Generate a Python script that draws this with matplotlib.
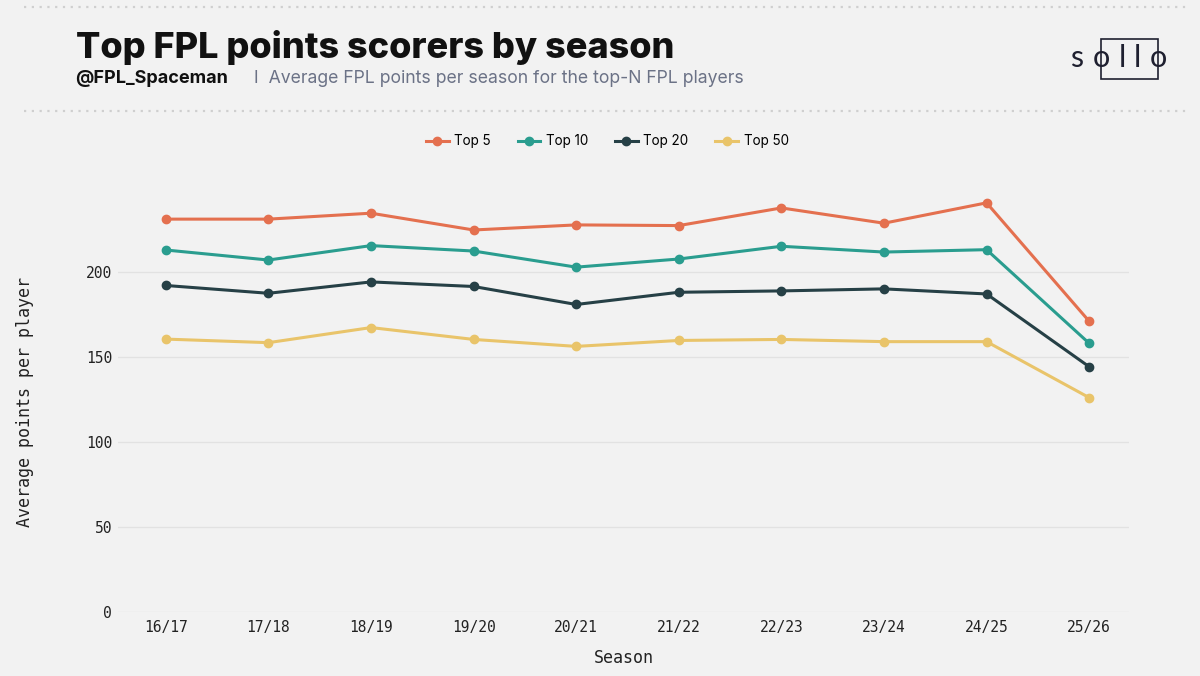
import matplotlib.pyplot as plt
from matplotlib.patches import Rectangle
from matplotlib.lines import Line2D

# Data
seasons = ['16/17', '17/18', '18/19', '19/20', '20/21', '21/22', '22/23', '23/24', '24/25', '25/26']
top5 = [231.4, 231.4, 234.9, 225.0, 228.0, 227.6, 238.0, 229.0, 241.0, 171.2]
top10 = [213.2, 207.3, 215.8, 212.6, 203.1, 207.9, 215.4, 212.0, 213.4, 158.2]
top20 = [192.3, 187.7, 194.4, 191.7, 181.1, 188.3, 189.1, 190.3, 187.3, 144.4]
top50 = [160.7, 158.6, 167.5, 160.5, 156.4, 159.9, 160.5, 159.2, 159.2, 126.2]
series_names = ['Top 5', 'Top 10', 'Top 20', 'Top 50']
colors = ['#e4704f', '#2a9d8f', '#264046', '#e9c46a']
y_ticks = [0, 50, 100, 150, 200]

bg = '#f2f2f2'
mono = 'DejaVu Sans Mono'

fig = plt.figure(figsize=(12, 6.76), dpi=100, facecolor=bg)
ax = fig.add_axes([0.098, 0.095, 0.843, 0.62])
ax.set_facecolor(bg)

x = list(range(len(seasons)))
for vals, name, c in zip([top5, top10, top20, top50], series_names, colors):
    ax.plot(x, vals, color=c, lw=2.2, marker='o', ms=6, label=name, zorder=3)

ax.set_xlim(-0.47, 9.39)
ax.set_ylim(0, 247)
ax.set_yticks(y_ticks)
ax.set_xticks(x)
ax.set_xticklabels(seasons)
ax.grid(axis='y', color='#e2e2e2', lw=0.9)
ax.grid(axis='x', visible=False)
for s in ax.spines.values():
    s.set_visible(False)
ax.tick_params(length=0, labelsize=10.5, colors='#222222', pad=6)
for lbl in ax.get_xticklabels() + ax.get_yticklabels():
    lbl.set_family(mono)
ax.tick_params(axis='y', pad=4)

ax.set_xlabel('Season', family=mono, fontsize=12, color='#222222', labelpad=10)
fig.text(0.013, 0.405, 'Average points per player', family=mono, fontsize=12,
         color='#222222', rotation=90, ha='left', va='center')

# legend
handles = [Line2D([0], [0], color=c, lw=2.2, marker='o', ms=6) for c in colors]
fig.legend(handles, series_names, loc='center', bbox_to_anchor=(0.506, 0.791), ncol=4,
           frameon=False, handlelength=1.7, columnspacing=2.0,
           handletextpad=0.4, prop={'family': 'Inter', 'size': 9.7})

# header
fig.text(0.063, 1 - 58 / 676, 'Top FPL points scorers by season', family='Inter', weight='heavy',
         fontsize=26, color='#111111', ha='left', va='baseline')
fig.text(0.063, 1 - 83 / 676, '@FPL_Spaceman', family='Inter', weight='bold', fontsize=13,
         color='#111111', ha='left', va='baseline')
fig.text(0.212, 1 - 83 / 676, 'I  Average FPL points per season for the top-N FPL players',
         family='Inter', fontsize=12.7, color='#6b7286', ha='left', va='baseline')

# dotted separators
for py in [7, 111]:
    yy = 1 - py / 676
    fig.add_artist(Line2D([0.02, 0.992], [yy, yy], color='#cfcfcf', lw=1.6,
                          linestyle=(0, (1, 2.5)), transform=fig.transFigure))

# logo
fig.add_artist(Rectangle((1101 / 1200, 1 - 79 / 676), 57 / 1200, 40 / 676,
                         transform=fig.transFigure, fill=False, ec='#1f2030', lw=1.2))
for ch, px in zip(['s', 'o', 'l', 'l', 'o'], [1077, 1101, 1122, 1137, 1158]):
    fig.text(px / 1200, 1 - 67 / 676, ch, family='Lato', weight='normal',
             fontsize=22, color='#1f2030', ha='center', va='baseline')

fig.savefig('out.png', dpi=100, facecolor=bg)
